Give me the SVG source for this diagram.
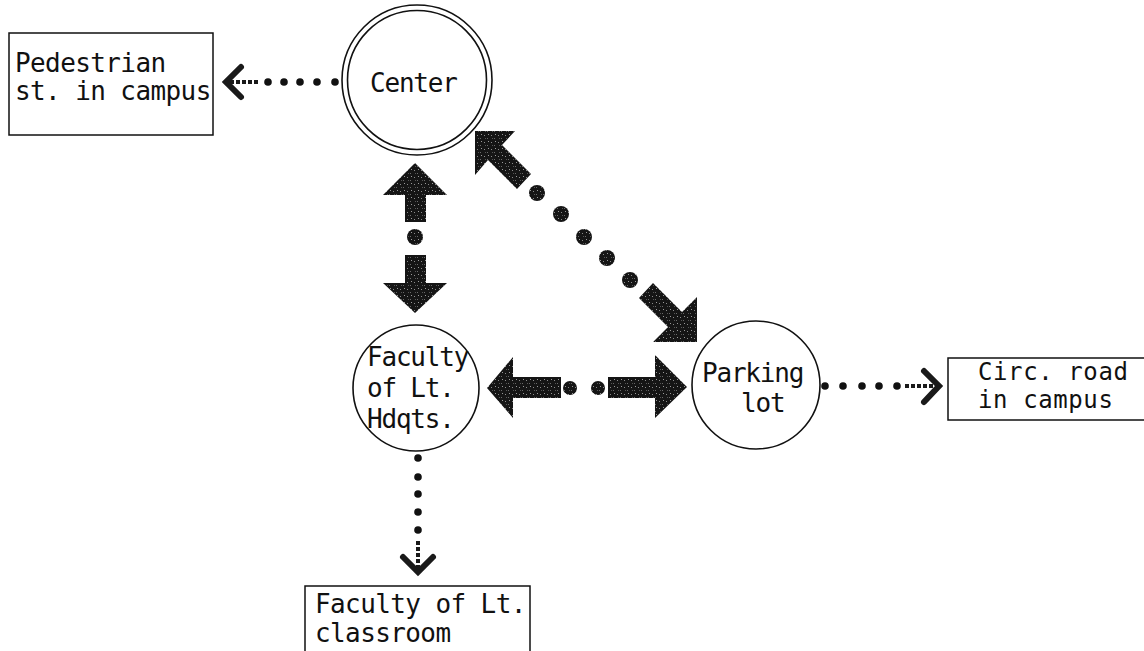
<svg xmlns="http://www.w3.org/2000/svg" width="1144" height="651" viewBox="0 0 1144 651">
  <defs>
    <pattern id="speckle" width="7" height="7" patternUnits="userSpaceOnUse">
      <rect width="7" height="7" fill="#151515"/>
      <rect x="1" y="2" width="1" height="1" fill="#8a8a8a"/>
      <rect x="4" y="5" width="1" height="1" fill="#6a6a6a"/>
      <rect x="5" y="1" width="1" height="1" fill="#9a9a9a"/>
      <rect x="2" y="5" width="1" height="1" fill="#555"/>
    </pattern>
    <style>
      .node { fill: #fff; stroke: #111; stroke-width: 1.6; }
      .box { fill: #fff; stroke: #111; stroke-width: 1.5; }
      .lbl { font-family: "DejaVu Sans Mono", "Liberation Mono", monospace; font-size: 26px; letter-spacing: -1.2px; fill: #111; }
      .blbl { font-family: "DejaVu Sans Mono", "Liberation Mono", monospace; font-size: 26px; letter-spacing: -0.6px; fill: #111; }
      .slbl { font-family: "DejaVu Sans Mono", "Liberation Mono", monospace; font-size: 24px; letter-spacing: 0.6px; fill: #111; }
      .thick { fill: url(#speckle); }
      .bigdot { fill: url(#speckle); }
      .dot { fill: #111; }
      .chev { fill: none; stroke: #1a1a1a; stroke-width: 6; stroke-linecap: round; stroke-linejoin: miter; }
      .shaft { fill: none; stroke: #1a1a1a; stroke-width: 4; stroke-dasharray: 4 2; }
    </style>
  </defs>
  <rect width="1144" height="651" fill="#fff"/>

  <g id="connectors">
    <!-- Center -> Pedestrian (dotted) -->
    <g id="c-center-pedestrian">
      <circle class="dot" cx="268" cy="82" r="3.8"/>
      <circle class="dot" cx="284" cy="82" r="3.8"/>
      <circle class="dot" cx="300" cy="82" r="3.8"/>
      <circle class="dot" cx="317" cy="82" r="3.8"/>
      <circle class="dot" cx="335" cy="82" r="3.8"/>
      <line class="shaft" x1="230" y1="82" x2="258" y2="82"/>
      <polyline class="chev" points="241,67 226,82 241,97"/>
    </g>
    <!-- Center <-> Faculty (thick) -->
    <g id="c-center-faculty">
      <polygon class="thick" points="415,163 447,195 426,195 426,222 405,222 405,195 383,195"/>
      <circle class="bigdot" cx="415" cy="237" r="8"/>
      <polygon class="thick" points="405,255 426,255 426,283 447,283 415,313 383,283 405,283"/>
    </g>
    <!-- Center <-> Parking (thick diagonal) -->
    <g id="c-center-parking">
      <polygon class="thick" points="475,131 515,131 502,145 531,174 517,189 488,160 475,175"/>
      <circle class="bigdot" cx="537" cy="193" r="8"/>
      <circle class="bigdot" cx="561" cy="214" r="8"/>
      <circle class="bigdot" cx="584" cy="237" r="8"/>
      <circle class="bigdot" cx="607" cy="258" r="8"/>
      <circle class="bigdot" cx="630" cy="280" r="8"/>
      <polygon class="thick" points="697,342 697,297 682,312 653,283 639,298 668,327 653,342"/>
    </g>
    <!-- Faculty <-> Parking (thick horizontal) -->
    <g id="c-faculty-parking">
      <polygon class="thick" points="487,388 513,357 513,377 561,377 561,398 513,398 513,418"/>
      <circle class="bigdot" cx="570" cy="388" r="7"/>
      <circle class="bigdot" cx="598" cy="388" r="7"/>
      <polygon class="thick" points="608,377 655,377 655,355 687,387 655,418 655,398 608,398"/>
    </g>
    <!-- Parking -> Circ road (dotted) -->
    <g id="c-parking-circ">
      <circle class="dot" cx="825" cy="386" r="3.8"/>
      <circle class="dot" cx="843" cy="386" r="3.8"/>
      <circle class="dot" cx="862" cy="386" r="3.8"/>
      <circle class="dot" cx="879" cy="386" r="3.8"/>
      <circle class="dot" cx="897" cy="386" r="3.8"/>
      <line class="shaft" x1="905" y1="386" x2="935" y2="386"/>
      <polyline class="chev" points="924,371 939,386 924,402"/>
    </g>
    <!-- Faculty -> classroom (dotted) -->
    <g id="c-faculty-classroom">
      <circle class="dot" cx="418" cy="458" r="3.8"/>
      <circle class="dot" cx="418" cy="477" r="3.8"/>
      <circle class="dot" cx="418" cy="494" r="3.8"/>
      <circle class="dot" cx="418" cy="512" r="3.8"/>
      <circle class="dot" cx="418" cy="530" r="3.8"/>
      <line class="shaft" x1="418" y1="541" x2="418" y2="568"/>
      <polyline class="chev" points="403,557 418,572 433,557"/>
    </g>
  </g>

  <g id="node-pedestrian">
    <rect class="box" x="9" y="33" width="204" height="102"/>
    <text class="blbl" x="15" y="72">Pedestrian</text>
    <text class="blbl" x="15" y="100">st. in campus</text>
  </g>

  <g id="node-center">
    <circle class="node" cx="417" cy="80" r="75"/>
    <circle class="node" cx="417" cy="80" r="69.5"/>
    <text class="lbl" x="370" y="92">Center</text>
  </g>

  <g id="node-faculty">
    <circle class="node" cx="416" cy="388" r="63"/>
    <text class="lbl" x="367" y="366">Faculty</text>
    <text class="lbl" x="367" y="397">of Lt.</text>
    <text class="lbl" x="367" y="428">Hdqts.</text>
  </g>

  <g id="node-parking">
    <circle class="node" cx="756" cy="385" r="64"/>
    <text class="lbl" x="702" y="382">Parking</text>
    <text class="lbl" x="741" y="412">lot</text>
  </g>

  <g id="node-circ">
    <rect class="box" x="948" y="358" width="210" height="62"/>
    <text class="slbl" x="978" y="380">Circ. road</text>
    <text class="slbl" x="978" y="408">in campus</text>
  </g>

  <g id="node-classroom">
    <rect class="box" x="305" y="586" width="225" height="80"/>
    <text class="blbl" x="315" y="613">Faculty of Lt.</text>
    <text class="blbl" x="315" y="642">classroom</text>
  </g>
</svg>
